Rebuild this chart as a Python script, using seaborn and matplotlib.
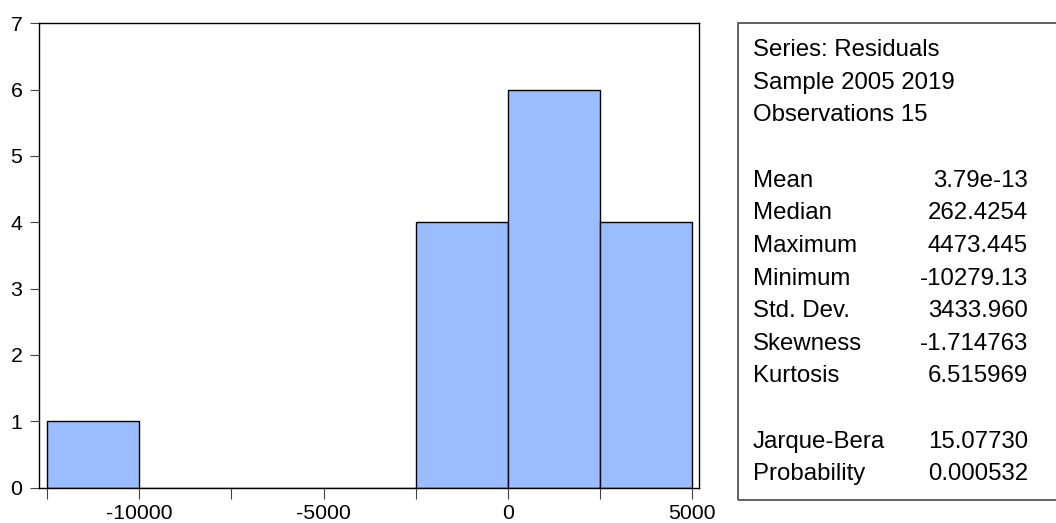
import numpy as np
import pandas as pd
import matplotlib
matplotlib.use("Agg")
import matplotlib.pyplot as plt
import seaborn as sns
from matplotlib.patches import Rectangle

# ---- data ----
bin_edges = [-12500, -10000, -7500, -5000, -2500, 0, 2500, 5000]
bin_counts = [1, 0, 0, 0, 4, 6, 4]
x_tick_positions = [-12500, -10000, -7500, -5000, -2500, 0, 2500, 5000]
x_tick_labels = ["", "-10000", "", "-5000", "", "0", "", "5000"]
y_tick_positions = [0, 1, 2, 3, 4, 5, 6, 7]
header_lines = ["Series: Residuals", "Sample 2005 2019", "Observations 15"]
stat_labels = ["Mean", "Median", "Maximum", "Minimum", "Std. Dev.", "Skewness", "Kurtosis"]
stat_values = ["3.79e-13", "262.4254", "4473.445", "-10279.13", "3433.960", "-1.714763", "6.515969"]
test_labels = ["Jarque-Bera", "Probability"]
test_values = ["15.07730", "0.000532"]

sns.set_theme(style="white")
plt.rcParams['font.family'] = ['Liberation Sans', 'DejaVu Sans']

W, H = 1056, 523
fig = plt.figure(figsize=(W / 100, H / 100), dpi=100)
fig.patch.set_facecolor("white")

ax_left, ax_right, ax_top, ax_bottom = 39, 699, 23.2, 487.5
ax = fig.add_axes([ax_left / W, (H - ax_bottom) / H, (ax_right - ax_left) / W, (ax_bottom - ax_top) / H])

centers = [(bin_edges[i] + bin_edges[i + 1]) / 2 for i in range(len(bin_counts))]
df = pd.DataFrame({"resid": centers, "count": bin_counts})
sns.histplot(data=df, x="resid", weights="count", bins=bin_edges,
             color="#99BDFF", edgecolor="black", linewidth=1.0, alpha=1.0, ax=ax)

ax.set_xlim(-12725, 5190)
ax.set_ylim(0, 7)
ax.set_xticks(x_tick_positions)
ax.set_xticklabels(x_tick_labels)
ax.set_yticks(y_tick_positions)
ax.set_yticklabels([str(v) for v in y_tick_positions])
ax.set_xlabel("")
ax.set_ylabel("")
for s in ax.spines.values():
    s.set_visible(True)
    s.set_color("black")
    s.set_linewidth(1.0)
ax.tick_params(axis="y", left=True, direction="out", length=6.5, width=0.8,
               color="#444444", labelsize=15.3, pad=5.5, labelcolor="black")
ax.tick_params(axis="x", bottom=True, direction="out", length=8, width=0.8,
               color="#444444", labelsize=15.3, pad=4.0, labelcolor="black")
ax.grid(False)

# ---- stats box ----
box_l, box_t, box_b = 738, 23, 500
fig.add_artist(Rectangle((box_l / W, (H - box_b) / H), (W + 10 - box_l) / W, (box_b - box_t) / H,
                         transform=fig.transFigure, fill=False, edgecolor="#555555",
                         linewidth=1.3, clip_on=False))

fs = 17.3
lab_x, val_x = 753, 1028
base0, step = 56, 32.65

def put(row, label, value=None):
    y = (H - (base0 + step * row)) / H
    fig.text(lab_x / W, y, label, ha="left", va="baseline", fontsize=fs, color="black")
    if value is not None:
        fig.text(val_x / W, y, value, ha="right", va="baseline", fontsize=fs, color="black")

for i, t in enumerate(header_lines):
    put(i, t)
for i, (l, v) in enumerate(zip(stat_labels, stat_values)):
    put(4 + i, l, v)
for i, (l, v) in enumerate(zip(test_labels, test_values)):
    put(12 + i, l, v)

fig.savefig("out.png", dpi=100, facecolor="white")
